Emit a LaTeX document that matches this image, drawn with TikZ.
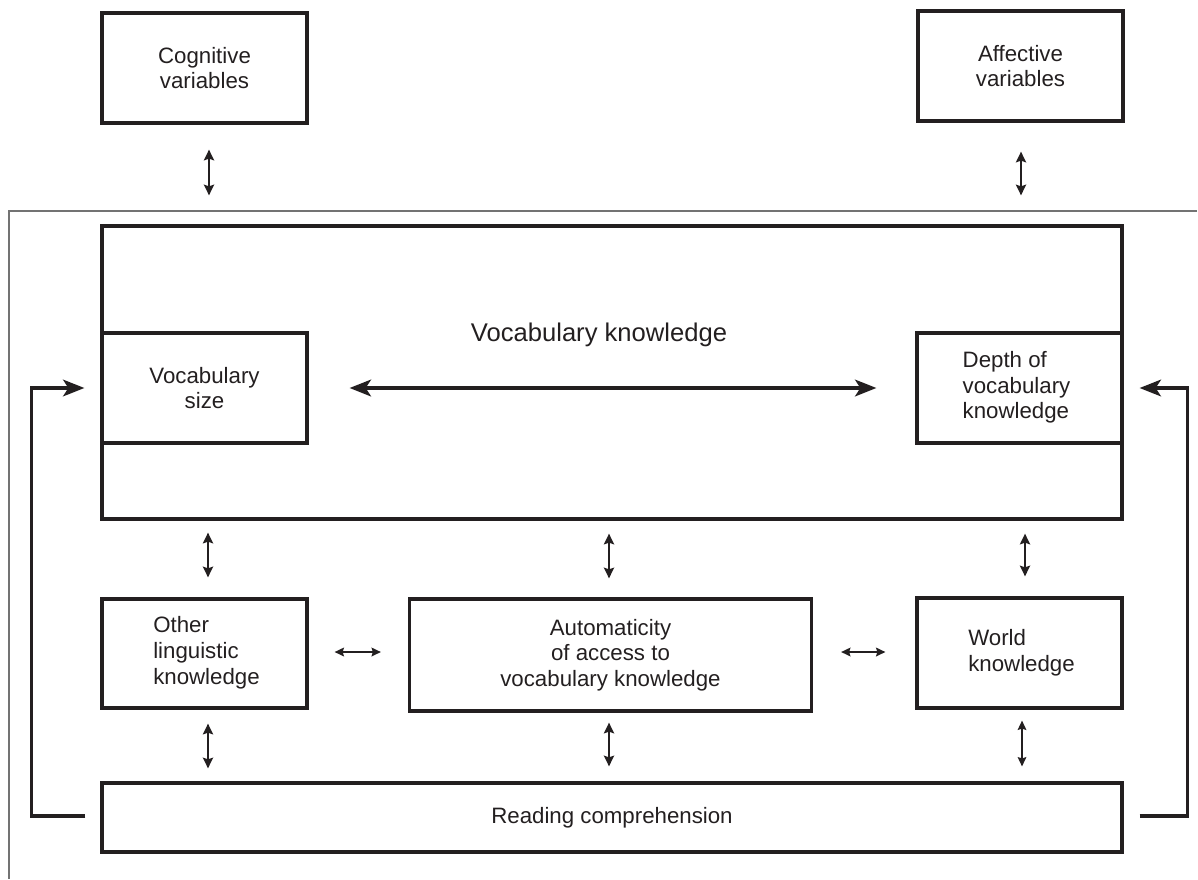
\documentclass[tikz,border=0pt]{standalone}
\usepackage{fontspec}
\setmainfont{Liberation Sans}
\usetikzlibrary{arrows.meta,calc}
\definecolor{ink}{HTML}{231F20}
\begin{document}
\begin{tikzpicture}[x=0.75pt,y=-0.75pt,
  bx/.style={draw=ink, line width=2.4pt, inner sep=0pt, text=ink,
    font=\fontsize{16.7}{19.3}\selectfont},
  dblv/.style={draw=ink, line width=2.2pt,
    {Stealth[length=8pt,width=7.5pt,inset=1.2pt]}-{Stealth[length=8pt,width=7.5pt,inset=1.2pt]}},
  dbls/.style={draw=ink, line width=1.4pt,
    {Stealth[length=7pt,width=6.5pt,inset=1pt]}-{Stealth[length=7pt,width=6.5pt,inset=1pt]}},
  dblbig/.style={draw=ink, line width=2.7pt,
    {Stealth[length=16pt,width=12.5pt,inset=4pt]}-{Stealth[length=16pt,width=12.5pt,inset=4pt]}},
  fb/.style={draw=ink, line width=2.5pt, -{Stealth[length=16pt,width=12.5pt,inset=4pt]}},
  frame/.style={draw=black!55, line width=0.8pt}
]
\useasboundingbox (0,0) rectangle (1198,879);
% outer open frame
\draw[frame] (1197,211) -- (9,211) -- (9,879);

% top boxes
\node[bx, minimum width=153.75pt, minimum height=82.5pt, align=center] (cog) at (204.5,68) {Cognitive\\variables};
\node[bx, minimum width=153.75pt, minimum height=82.5pt, align=center] (aff) at (1020.5,66) {Affective\\variables};

% vocabulary knowledge
\node[bx, minimum width=765pt, minimum height=219.75pt] (vk) at (612,372.5) {};
\node[text=ink, font=\fontsize{19.2}{23}\selectfont, anchor=base, inner sep=0pt] (vkl) at (599,341) {Vocabulary knowledge};
\node[bx, fill=white, minimum width=153.75pt, minimum height=82.5pt, align=center] (vs) at (204.5,388) {Vocabulary\\size};
\node[bx, fill=white, minimum width=153.75pt, minimum height=82.5pt, align=left] (dep) at (1019.5,388) {\hspace*{-4.5pt}\begin{tabular}{@{}l@{}}Depth of\\vocabulary\\knowledge\end{tabular}};

% middle row
\node[bx, minimum width=153.75pt, minimum height=81.75pt, align=left] (oth) at (204.5,653.5) {\hspace*{3pt}\begin{tabular}{@{}l@{}}Other\\linguistic\\knowledge\end{tabular}};
\node[bx, minimum width=301.5pt, minimum height=84pt, align=center] (aut) at (610.5,655) {Automaticity\\of access to\\vocabulary knowledge};
\node[bx, minimum width=153.75pt, minimum height=82.5pt, align=left] (wld) at (1019.5,653) {\hspace*{3pt}\begin{tabular}{@{}l@{}}World\\knowledge\end{tabular}};

% reading comprehension
\node[bx, minimum width=765pt, minimum height=51.75pt] (rc) at (612,817.5) {Reading comprehension};

% top connectors
\draw[dblv] ($(cog.south)+(4.5,25)$) -- ($(cog.south |- vk.north)+(4.5,-29)$);
\draw[dblv] ($(aff.south)+(0.5,29)$) -- ($(aff.south |- vk.north)+(0.5,-29)$);

% inside vocabulary knowledge
\draw[dblbig] ($(vs.east)+(41,0)$) -- ($(dep.west)+(-39,0)$);

% vk to middle row
\draw[dblv] ($(vk.south -| oth.north)+(3.5,12)$) -- ($(oth.north)+(3.5,-20)$);
\draw[dblv] ($(vk.south -| aut.north)+(-1.5,13)$) -- ($(aut.north)+(-1.5,-19)$);
\draw[dblv] ($(vk.south -| wld.north)+(5.5,13)$) -- ($(wld.north)+(5.5,-20)$);

% middle row horizontals
\draw[dbls] ($(oth.east)+(26,-1.5)$) -- ($(aut.west)+(-27,-3)$);
\draw[dbls] ($(aut.east)+(28,-3)$) -- ($(wld.west)+(-30,-1)$);

% middle row to reading comprehension
\draw[dblv] ($(oth.south)+(3.5,14)$) -- ($(oth.south |- rc.north)+(3.5,-13)$);
\draw[dblv] ($(aut.south)+(-1.5,10)$) -- ($(aut.south |- rc.north)+(-1.5,-15)$);
\draw[dbls, line width=1.1pt] ($(wld.south)+(2.5,11)$) -- ($(wld.south |- rc.north)+(2.5,-15)$);

% feedback loops
\draw[fb] ($(rc.west)+(-15,-1.5)$) -- ($(rc.west)+(-69,-1.5)$) |- ($(vs.west)+(-16,0)$);
\draw[fb] ($(rc.east)+(16,-1.5)$) -- ($(rc.east)+(64,-1.5)$) |- ($(dep.east)+(16,0)$);
\end{tikzpicture}
\end{document}
